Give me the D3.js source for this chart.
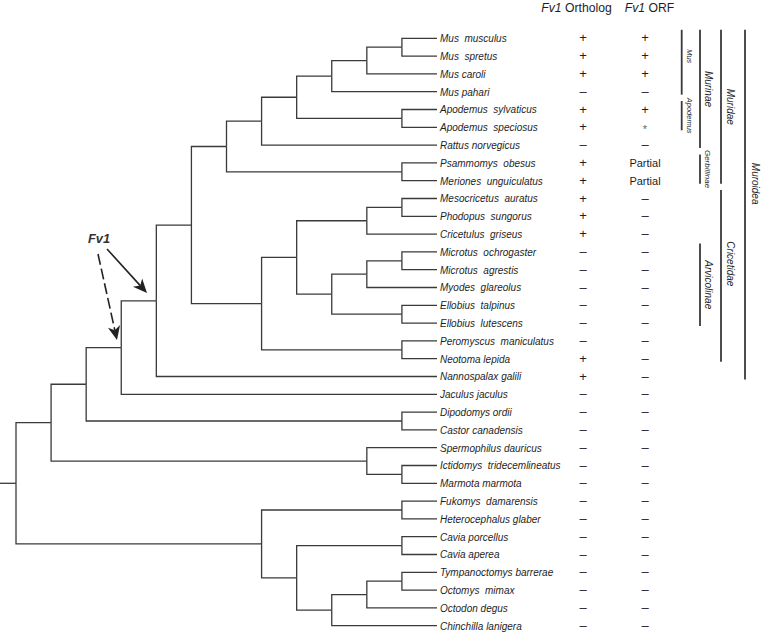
<!DOCTYPE html>
<html><head><meta charset="utf-8">
<script src="https://cdn.jsdelivr.net/npm/d3@7"></script>
<style>body{margin:0;background:#fff}svg{display:block}</style>
</head><body>
<svg id="chart" width="762" height="634"></svg>
<script>
// ---------------- data ----------------
const species = ["Mus  musculus","Mus  spretus","Mus caroli","Mus pahari","Apodemus  sylvaticus","Apodemus  speciosus","Rattus norvegicus","Psammomys  obesus","Meriones  unguiculatus","Mesocricetus  auratus","Phodopus  sungorus","Cricetulus  griseus","Microtus  ochrogaster","Microtus  agrestis","Myodes  glareolus","Ellobius  talpinus","Ellobius  lutescens","Peromyscus  maniculatus","Neotoma lepida","Nannospalax galili","Jaculus jaculus","Dipodomys ordii","Castor canadensis","Spermophilus dauricus","Ictidomys  tridecemlineatus","Marmota marmota","Fukomys  damarensis","Heterocephalus glaber","Cavia porcellus","Cavia aperea","Tympanoctomys barrerae","Octomys  mimax","Octodon degus","Chinchilla lanigera"];
const fv1Ortholog = ["+","+","+","–","+","+","–","+","+","+","+","+","–","–","–","–","–","–","+","+","–","–","–","–","–","–","–","–","–","–","–","–","–","–"];
const fv1ORF = ["+","+","+","–","+","*","–","Partial","Partial","–","–","–","–","–","–","–","–","–","–","–","–","–","–","–","–","–","–","–","–","–","–","–","–","–"];
// cladogram topology in Newick form (numbers are indices into species)
const treeNewick = "((((((((((((0,1),2),3),(4,5)),6),(7,8)),((((9,10),11),(((12,13),14),(15,16))),(17,18))),19),20),(21,22)),(23,(24,25))),((26,27),((28,29),(((30,31),32),33))))";
const cladeNames = ["Mus","Apodemus","Murinae","Gerbillinae","Arvicolinae","Muridae","Cricetidae","Muroidea"];
const cladeFirst = [0, 4, 0, 7, 12, 0, 9, 0];
const cladeLast  = [3, 5, 6, 8, 16, 8, 18, 19];
const cladeLevel = [0, 0, 1, 1, 1, 2, 2, 3];

(function draw() {
  function parseNewick(s) {
    var i = 0;
    function node() {
      if (s[i] === "(") {
        i++;
        var ch = [node()];
        while (s[i] === ",") { i++; ch.push(node()); }
        i++;
        return { children: ch };
      }
      var t = "";
      while (i < s.length && /[0-9]/.test(s[i])) { t += s[i]; i++; }
      return { leaf: +t };
    }
    return node();
  }
  var svg = d3.select("#chart");
  var lineColor = "#3a3a3a", textColor = "#1e1e1e";
  var font = "'Liberation Sans', Arial, Helvetica, sans-serif";

  var root = d3.hierarchy(parseNewick(treeNewick), function (d) { return d.children; });
  d3.cluster().size([1, 1]).separation(function () { return 1; })(root);
  var leaves = root.leaves();
  var leafPos = {};
  leaves.forEach(function (l) { leafPos[l.data.leaf] = l.x; });
  var yS = d3.scaleLinear().domain(d3.extent(leaves, function (d) { return d.x; })).range([38.3, 625.7]);
  var xS = d3.scaleLinear().domain([0, 1]).range([16, 437]);

  var gT = svg.append("g");
  gT.selectAll("path.link").data(root.links()).join("path")
    .attr("class", "link")
    .attr("fill", "none").attr("stroke", lineColor).attr("stroke-width", 1.3)
    .attr("d", function (l) {
      return "M" + xS(l.source.y) + "," + yS(l.source.x) + "V" + yS(l.target.x) + "H" + xS(l.target.y);
    });
  gT.append("path").attr("fill", "none").attr("stroke", lineColor).attr("stroke-width", 1.3)
    .attr("d", "M0," + yS(root.x) + "H" + xS(root.y));

  gT.selectAll("text.leaf").data(leaves).join("text")
    .attr("class", "leaf")
    .attr("x", xS(1) + 3).attr("y", function (d) { return yS(d.x) + 3.8; })
    .attr("font-family", font).attr("font-style", "italic").attr("font-size", 10)
    .attr("fill", textColor).style("white-space", "pre")
    .text(function (d) { return species[d.data.leaf]; });

  var colX = [583, 645];
  [fv1Ortholog, fv1ORF].forEach(function (vals, ci) {
    svg.append("g").selectAll("text").data(vals).join("text")
      .attr("x", colX[ci])
      .attr("y", function (v, i) { return yS(leafPos[i]) + (v === "*" ? 6 : 4); })
      .attr("text-anchor", "middle").attr("font-family", font)
      .attr("font-size", function (v) { return v === "Partial" ? 11 : (v === "*" ? 11 : 13); })
      .attr("fill", function (v) { return v === "*" ? "#666" : textColor; })
      .text(function (v) { return v; });
  });
  var headerWords = ["Ortholog", "ORF"], headerDx = [-6.5, 4.5];
  headerWords.forEach(function (w, i) {
    var t = svg.append("text").attr("x", colX[i] + headerDx[i]).attr("y", 12)
      .attr("text-anchor", "middle").attr("font-family", font).attr("font-size", 12.2)
      .attr("fill", textColor);
    t.append("tspan").attr("font-style", "italic").text("Fv1");
    t.append("tspan").text(" " + w);
  });

  var levelX = [681.7, 700, 721, 745];
  var labelGap = [5, 5, 5.5, 7];
  var labelSize = { Mus: 7.5, Apodemus: 7.5, Gerbillinae: 8 };
  var labelShift = { Mus: -6, Muroidea: -21, Cricetidae: -12 };
  cladeNames.forEach(function (name, k) {
    var lx = levelX[cladeLevel[k]];
    var y0 = yS(leafPos[cladeFirst[k]]) - 8.5, y1 = yS(leafPos[cladeLast[k]]) + 3;
    svg.append("line").attr("x1", lx).attr("x2", lx)
      .attr("y1", y0).attr("y2", y1).attr("stroke", lineColor).attr("stroke-width", 1.8);
    var cy = (y0 + y1) / 2 + (labelShift[name] || 0);
    svg.append("text")
      .attr("transform", "translate(" + (lx + labelGap[cladeLevel[k]]) + "," + cy + ") rotate(90)")
      .attr("text-anchor", "middle").attr("font-family", font).attr("font-style", "italic")
      .attr("font-size", labelSize[name] || 10).attr("fill", textColor)
      .text(name);
  });

  svg.append("text").attr("x", 88).attr("y", 242.5)
    .attr("font-family", font).attr("font-style", "italic").attr("font-weight", "bold")
    .attr("font-size", 12.8).attr("fill", "#333").text("Fv1");
  function arrow(x1, y1, x2, y2, dash) {
    var a = Math.atan2(y2 - y1, x2 - x1);
    var L = 14, W = 6.2, N = 4;
    var bx = x2 - L * Math.cos(a), by = y2 - L * Math.sin(a);
    var nx = x2 - (L - N) * Math.cos(a), ny = y2 - (L - N) * Math.sin(a);
    var px = -Math.sin(a), py = Math.cos(a);
    svg.append("line").attr("x1", x1).attr("y1", y1).attr("x2", nx).attr("y2", ny)
      .attr("stroke", "#222").attr("stroke-width", 1.6)
      .attr("stroke-dasharray", dash || null);
    svg.append("path").attr("fill", "#222")
      .attr("d", "M" + x2 + "," + y2 + "L" + (bx + W * px) + "," + (by + W * py) + "L" + nx + "," + ny +
        "L" + (bx - W * px) + "," + (by - W * py) + "Z");
  }
  arrow(107, 249, 147, 293);
  arrow(98, 254, 117, 340, "11,4");
})();
</script>
</body></html>
